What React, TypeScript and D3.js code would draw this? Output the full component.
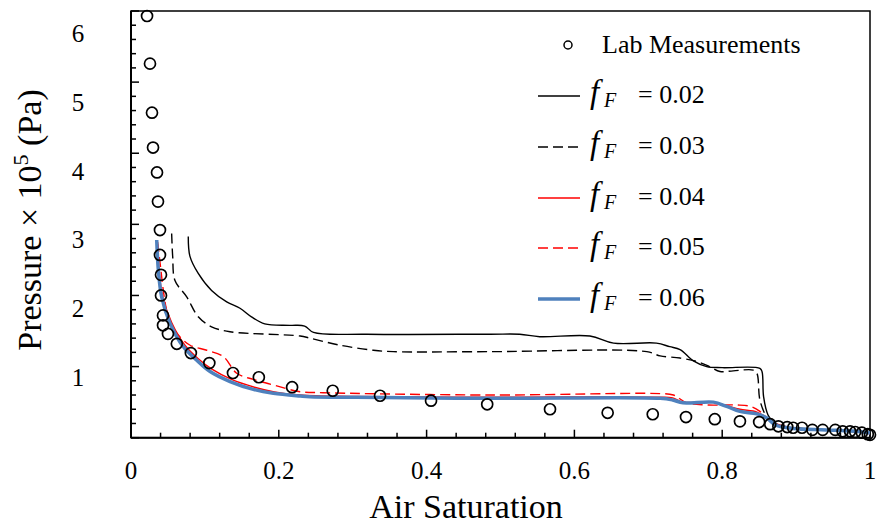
import React from "react";
import * as d3 from "d3";

type P = [number, number];

const labX: number[] = [0.0217,0.0257,0.0284,0.0298,0.0352,0.0365,0.0392,0.0392,0.0406,0.0406,0.0433,0.0433,0.050,0.062,0.081,0.106,0.138,0.173,0.218,0.273,0.337,0.406,0.482,0.567,0.645,0.706,0.751,0.790,0.824,0.850,0.865,0.876,0.888,0.896,0.908,0.922,0.936,0.953,0.963,0.973,0.980,0.989,0.997,1.0];
const labY: number[] = [5.93,5.26,4.57,4.08,3.73,3.32,2.92,2.57,2.29,2.00,1.72,1.58,1.46,1.32,1.19,1.05,0.91,0.85,0.71,0.66,0.59,0.52,0.47,0.40,0.35,0.33,0.29,0.26,0.23,0.22,0.19,0.16,0.15,0.14,0.14,0.11,0.11,0.11,0.09,0.09,0.08,0.07,0.05,0.04];

const f002: P[] = [[0.0775,2.83],[0.0798,2.55],[0.091,2.31],[0.109,2.07],[0.1295,1.91],[0.1475,1.82],[0.163,1.70],[0.181,1.60],[0.215,1.58],[0.235,1.57],[0.247,1.48],[0.319,1.455],[0.486,1.455],[0.526,1.455],[0.553,1.42],[0.621,1.43],[0.653,1.33],[0.711,1.33],[0.729,1.28],[0.743,1.24],[0.761,1.08],[0.779,1.0],[0.80,0.985],[0.851,0.976],[0.854,0.925],[0.856,0.577],[0.862,0.32],[0.869,0.225],[0.878,0.17],[0.896,0.14],[0.94,0.11],[0.98,0.085],[1.0,0.06]];
const f003: P[] = [[0.055,2.87],[0.0564,2.55],[0.0595,2.21],[0.0754,1.98],[0.091,1.70],[0.109,1.56],[0.134,1.49],[0.229,1.43],[0.242,1.40],[0.283,1.30],[0.328,1.23],[0.355,1.21],[0.486,1.21],[0.698,1.21],[0.716,1.15],[0.743,1.12],[0.766,1.07],[0.783,1.0],[0.797,0.93],[0.815,0.94],[0.842,0.95],[0.847,0.905],[0.851,0.53],[0.860,0.295],[0.867,0.225],[0.878,0.17],[0.896,0.14],[0.94,0.11],[0.98,0.085],[1.0,0.06]];
const f004: P[] = [[0.036,2.72],[0.038,2.34],[0.043,1.98],[0.055,1.62],[0.073,1.30],[0.091,1.11],[0.11,0.96],[0.136,0.82],[0.167,0.71],[0.194,0.645],[0.229,0.60],[0.30,0.58],[0.486,0.57],[0.716,0.57],[0.733,0.56],[0.747,0.50],[0.788,0.50],[0.806,0.45],[0.824,0.40],[0.847,0.36],[0.862,0.27],[0.875,0.17],[0.896,0.13],[0.94,0.11],[0.98,0.085],[1.0,0.06]];
const f005: P[] = [[0.036,2.75],[0.040,2.40],[0.045,1.98],[0.0505,1.70],[0.062,1.47],[0.080,1.30],[0.1025,1.23],[0.125,1.14],[0.143,0.906],[0.1655,0.82],[0.193,0.74],[0.229,0.647],[0.260,0.633],[0.486,0.60],[0.716,0.62],[0.734,0.60],[0.752,0.49],[0.779,0.46],[0.82,0.46],[0.838,0.44],[0.851,0.37],[0.865,0.23],[0.878,0.18],[0.896,0.14],[0.94,0.11],[0.98,0.085],[1.0,0.06]];
const f006: P[] = [[0.0348,2.78],[0.037,2.36],[0.0415,1.98],[0.0528,1.61],[0.0708,1.28],[0.089,1.09],[0.107,0.93],[0.134,0.79],[0.1655,0.68],[0.1926,0.625],[0.229,0.587],[0.242,0.577],[0.305,0.568],[0.486,0.554],[0.716,0.554],[0.733,0.53],[0.747,0.49],[0.788,0.50],[0.806,0.44],[0.824,0.37],[0.847,0.335],[0.860,0.28],[0.872,0.18],[0.896,0.13],[0.941,0.11],[0.987,0.085],[1.0,0.066]];

const seriesLabels: string[] = ["0.02", "0.03", "0.04", "0.05", "0.06"];
const xTickLabels: number[] = [0, 0.2, 0.4, 0.6, 0.8, 1];
const yTickLabels: number[] = [1, 2, 3, 4, 5, 6];

const FONT = "Liberation Serif, DejaVu Serif, serif";
const T: React.CSSProperties = { fontFamily: FONT };

export default function App() {
  const x = d3.scaleLinear().domain([0, 1]).range([131, 870]);
  const y = d3.scaleLinear().domain([0, 6]).range([437.7, 11]);
  const yLab = d3.scaleLinear().domain([1, 6]).range([377, 33]);

  const line = d3
    .line<P>()
    .x((d) => x(d[0]))
    .y((d) => y(d[1]))
    .curve(d3.curveCatmullRom.alpha(0.5));

  const series = [
    { data: f002, color: "#000", width: 1.4, dash: undefined as string | undefined },
    { data: f003, color: "#000", width: 1.4, dash: "10,5" },
    { data: f004, color: "#ff0000", width: 1.4, dash: undefined },
    { data: f005, color: "#ff0000", width: 1.4, dash: "10,5" },
    { data: f006, color: "#4f81bd", width: 3.5, dash: undefined },
  ];

  const xMinor = d3.range(0, 1.0001, 0.04);
  const yMinor = d3.range(0, 6.0001, 0.2);

  const legendRows = [96, 147, 198, 248, 299];

  return (
    <svg
      width={877}
      height={526}
      style={{ position: "absolute", left: 0, top: 0, background: "#fff" }}
    >
      <rect x={0} y={0} width={877} height={526} fill="#fff" />
      {/* frame */}
      <rect x={x(0)} y={y(6)} width={x(1) - x(0)} height={y(0) - y(6)} fill="none" stroke="#000" strokeWidth={1.5} />
      <line x1={x(0)} x2={x(0)} y1={y(6)} y2={y(0)} stroke="#000" strokeWidth={2} />
      <line x1={x(0)} x2={x(1)} y1={y(0)} y2={y(0)} stroke="#000" strokeWidth={2} />

      {/* x ticks */}
      {xMinor.map((v, i) => {
        const major = i % 5 === 0;
        return (
          <line key={"xt" + i} x1={x(v)} x2={x(v)} y1={y(0)} y2={y(0) - (major ? 8 : 5)} stroke="#000" strokeWidth={1.5} />
        );
      })}
      {yMinor.map((v, i) => {
        const major = i % 5 === 0;
        return (
          <line key={"yt" + i} x1={x(0)} x2={x(0) + (major ? 8 : 5)} y1={y(v)} y2={y(v)} stroke="#000" strokeWidth={1.5} />
        );
      })}

      {xTickLabels.map((v) => (
        <text key={"xl" + v} x={x(v)} y={479} textAnchor="middle" fontSize={25} fill="#000" style={T}>
          {String(v)}
        </text>
      ))}
      {yTickLabels.map((v) => (
        <text key={"yl" + v} x={78} y={yLab(v) + 9} textAnchor="middle" fontSize={25} fill="#000" style={T}>
          {String(v)}
        </text>
      ))}

      <text x={466} y={518} textAnchor="middle" fontSize={34} fill="#000" style={T}>
        Air Saturation
      </text>
      <text transform="translate(41,220) rotate(-90)" textAnchor="middle" fontSize={34} fill="#000" style={T}>
        Pressure × 10<tspan fontSize={22} dy={-13}>5</tspan>
        <tspan dy={13}> (Pa)</tspan>
      </text>

      {/* series */}
      {series.map((s, i) => (
        <path key={"s" + i} d={line(s.data) || ""} fill="none" stroke={s.color} strokeWidth={s.width} strokeDasharray={s.dash} />
      ))}

      {/* lab measurements */}
      {labX.map((v, i) => (
        <circle key={"c" + i} cx={x(v)} cy={y(labY[i])} r={5.5} fill="none" stroke="#000" strokeWidth={1.7} />
      ))}

      {/* legend */}
      <circle cx={568} cy={45} r={4} fill="none" stroke="#000" strokeWidth={1.5} />
      <text x={602} y={53} fontSize={26} fill="#000" style={T}>Lab Measurements</text>
      {series.map((s, i) => (
        <g key={"lg" + i}>
          <line x1={538} x2={580} y1={legendRows[i]} y2={legendRows[i]} stroke={s.color} strokeWidth={s.width} strokeDasharray={s.dash} />
          <text x={590} y={legendRows[i] + 7} fontSize={33} fontStyle="italic" fill="#000" style={T}>f</text>
          <text x={604} y={legendRows[i] + 11} fontSize={20} fontStyle="italic" fill="#000" style={T}>F</text>
          <text x={638} y={legendRows[i] + 7} fontSize={26} fill="#000" style={T}>= {seriesLabels[i]}</text>
        </g>
      ))}
    </svg>
  );
}
